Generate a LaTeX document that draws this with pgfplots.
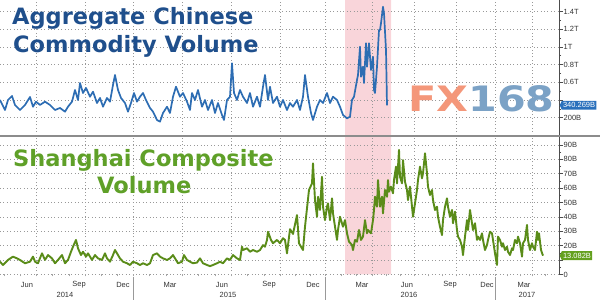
\documentclass[border=0pt]{standalone}
\usepackage{fontspec}
\setmainfont{Liberation Sans}
\newfontfamily\titlefont{DejaVu Sans}
\usepackage{pgfplots}
\pgfplotsset{compat=1.18}
\usetikzlibrary{shapes.symbols}
\definecolor{titleblue}{HTML}{1F4F8C}
\definecolor{lineblue}{HTML}{2D6DB3}
\definecolor{titlegreen}{HTML}{5FA028}
\definecolor{linegreen}{HTML}{5A8C19}
\definecolor{tagblue}{HTML}{2A70BC}
\definecolor{taggreen}{HTML}{64A01E}
\definecolor{shade}{HTML}{F9D5DA}
\definecolor{fxorange}{HTML}{F4977A}
\definecolor{fxblue}{HTML}{7BA2C6}
\pgfplotsset{
  panel/.style={
    scale only axis, width=559pt, xmin=0, xmax=559,
    axis x line*=bottom, axis y line*=right,
    x axis line style={draw=none},
    y axis line style={draw=black!70, line width=0.8pt},
    tick align=outside,
    major tick length=3.5pt, minor tick length=2pt,
    every tick/.style={draw=black!70, line width=0.6pt},
    major x tick style={draw=none},
    xmajorgrids, ymajorgrids,
    grid style={draw=gray!80, line width=0.75pt, dash pattern=on 0.8pt off 2.6pt},
    xtick={36,85,133,182,231,280,325,372,414,456,495,532},
    xticklabels={},
    yticklabel style={font=\fontsize{7.5}{9}\selectfont, text=black!80, anchor=west, inner sep=1pt},
    clip=false,
  }
}
\begin{document}
\begin{tikzpicture}[x=1pt,y=1pt]
% ---------------- highlighted period (background axis) ----------------
\begin{scope}[yshift=25.5pt]
\begin{axis}[scale only axis, width=559pt, height=274.5pt, at={(0pt,0pt)}, anchor=origin,
  xmin=0, xmax=559, ymin=0, ymax=1, hide axis, clip=false]
\addplot[fill=shade, draw=none] coordinates {(345,0)(345,1)(391,1)(391,0)} \closedcycle;
\end{axis}
\end{scope}
% ---------------- top panel ----------------
\begin{scope}[yshift=164.6pt]
\begin{axis}[panel, at={(0pt,0pt)}, anchor=origin, height=135.4pt,
  ymin=0, ymax=1530,
  ytick={200,400,600,800,1000,1200,1400},
  yticklabels={200B,,0.6T,0.8T,1T,1.2T,1.4T},
  minor y tick num=1]
\addplot[lineblue, line width=1.7pt, line join=round] coordinates {
(0,400)(5,287)(8,400)(12,445)(15,344)(20,287)(25,344)(30,434)(33,324)(36,381)
(40,344)(45,381)(50,344)(55,287)(60,310)(65,268)(68,324)(72,381)(75,513)(78,400)
(80,592)(83,479)(86,536)(90,437)(93,494)(97,366)(100,423)(103,324)(107,423)(110,381)
(113,570)(115,683)(118,513)(121,423)(125,366)(128,268)(131,366)(134,479)(137,381)(140,437)
(143,479)(146,400)(150,310)(153,268)(157,174)(160,155)(163,253)(167,324)(170,253)(173,437)
(176,550)(180,437)(183,479)(187,381)(190,287)(192,479)(195,400)(198,513)(202,324)(205,400)
(208,287)(212,400)(215,253)(218,366)(222,231)(224,174)(227,400)(230,437)(232,815)(234,479)
(237,400)(240,513)(243,437)(247,366)(250,479)(253,324)(257,437)(260,324)(263,550)(265,683)
(268,400)(270,550)(273,366)(277,437)(280,324)(283,400)(287,287)(290,366)(293,324)(297,400)
(300,287)(303,437)(305,683)(308,437)(311,253)(313,174)(317,324)(320,400)(323,366)(327,479)
(330,366)(333,437)(337,400)(340,324)(343,231)(347,193)(350,211)(352,400)(354,437)(357,626)
(358,683)(360,1002)(361,663)(363,776)(364,592)(366,1041)(367,776)(369,1041)(371,739)(373,889)
(374,513)(375,479)(377,776)(379,1191)(380,1191)(381,1267)(383,1454)(384,1380)(386,965)(387,340.269)
};
\node[shape=signal, signal to=west, signal pointer angle=130, fill=tagblue, text=white,
  font=\fontsize{7.5}{8}\selectfont, inner xsep=1.2pt, inner ysep=1.8pt, anchor=west]
  at (axis cs:559.5,340.269) {340.269B};
\end{axis}
\end{scope}
% ---------------- bottom panel ----------------
\begin{scope}[yshift=25.5pt]
\begin{axis}[panel, at={(0pt,0pt)}, anchor=origin, height=137.5pt,
  ymin=0, ymax=95.5,
  ytick={0,10,20,30,40,50,60,70,80,90},
  yticklabels={0,,20B,30B,40B,50B,60B,70B,80B,90B},
  minor y tick num=1,
  minor xtick={4,20,36,52,69,85,101,117,133,149,166,182,198,215,231,247,264,280,295,310,325,341,356,372,386,400,414,428,442,456,469,482,495,507,520,532,545},
  minor x tick style={draw=gray!70, line width=0.5pt},
]
\addplot[linegreen, line width=1.9pt, line join=round] coordinates {
(0,8.9)(3,6.6)(8,10.1)(13,12.4)(17,11.2)(20,10.1)(25,7.8)(30,8.9)(33,12.4)(35,8.9)
(38,7.8)(42,14.7)(45,10.1)(48,13.5)(52,11.2)(55,7.8)(58,10.1)(62,13.5)(65,7.8)(68,10.1)
(71,15.8)(73,19.3)(76,24)(78,18.2)(81,13.5)(83,15.8)(86,12.4)(88,14.7)(92,10.1)(95,13.5)
(98,11.2)(102,10.1)(105,14.7)(107,11.2)(110,8.9)(113,13.5)(115,17)(117,14.7)(120,11.2)(123,8.9)
(127,7.8)(130,6.6)(133,8.9)(137,7.8)(140,6.6)(143,7.8)(147,6.6)(150,7.8)(153,13.5)(157,14.7)
(160,12.4)(163,11.2)(167,10.1)(170,11.2)(173,13.5)(176,10.1)(178,7.8)(182,8.9)(184,13.5)(187,10.1)
(190,8.9)(193,7.8)(197,8.3)(200,11.2)(203,7.8)(207,6.6)(210,5.8)(213,6.6)(217,7.8)(220,8.9)
(223,7.8)(227,11.2)(230,10.1)(233,13.5)(237,11.2)(240,10.1)(242,19.3)(243,17)(247,18.2)(250,15.8)
(253,17)(257,15.8)(260,17)(263,20.4)(265,19.3)(267,24)(268,29.7)(271,24)(273,21.7)(277,24)
(280,21.7)(283,25.2)(285,24)(287,14.7)(290,31.5)(293,28.2)(297,41.3)(299,21.7)(300,20.5)(303,17)
(305,33.2)(307,46)(309,58.7)(312,63.3)(313,77.2)(315,51.7)(317,40.1)(318,54)(320,44.8)(322,67.9)
(323,47.1)(325,37.8)(327,47.1)(328,49.4)(330,37.8)(332,52.9)(333,42.5)(337,24)(338,30.9)(340,40.1)
(343,33.2)(345,37.8)(347,28.6)(349,22.8)(352,20.5)(353,17)(355,24)(357,22.8)(359,30.9)(361,24)
(363,26.3)(365,37.8)(367,28.6)(368,30.9)(371,28.6)(373,37.8)(374,44.8)(375,54)(377,47.1)(378,65.6)
(380,47.1)(382,54)(383,42.5)(385,58.7)(387,54)(388,65.6)(389,57.5)(391,61)(393,56.4)(394,65.6)
(396,74.9)(397,63.3)(399,86.5)(400,67.9)(402,63.3)(403,79.5)(405,64.4)(407,58.7)(408,51.7)(410,61)
(412,47.1)(413,40.1)(415,49.4)(417,58.7)(418,65.6)(420,74.9)(422,66.8)(423,70.3)(425,84.2)(427,70.3)
(428,61)(430,55.2)(432,58.7)(433,51.7)(435,44.8)(437,47.1)(438,40.1)(440,33.2)(442,27.4)(443,37.8)
(445,47.1)(447,52.9)(448,47.1)(450,40.1)(452,44.8)(453,35.6)(455,43.6)(457,30.9)(458,26.3)(460,24)
(462,19.3)(463,13.5)(465,26.3)(467,37.8)(468,30.9)(470,44.8)(472,35.6)(473,30.9)(475,35.6)(477,24)
(478,26.3)(480,24)(482,28.6)(483,24)(485,17)(487,20.5)(488,24)(490,29.7)(492,28.6)(493,24)
(495,14.7)(497,6.6)(498,26.3)(500,24)(502,19.3)(503,21.7)(505,17)(507,19.3)(508,15.8)(510,13.5)
(512,18.2)(513,17)(515,24)(517,21.7)(518,26.3)(520,21.7)(522,12.4)(523,21.7)(525,24)(527,34.4)
(528,24)(530,17)(532,21.7)(533,19.3)(535,17)(537,29.7)(538,24)(539,28.6)(541,17)(543,13.082)
};
\node[shape=signal, signal to=west, signal pointer angle=130, fill=taggreen, text=white,
  font=\fontsize{7.5}{8}\selectfont, inner xsep=1.2pt, inner ysep=1.8pt, anchor=west]
  at (axis cs:559.5,13.082) {13.082B};
\end{axis}
\end{scope}
% ---------------- decorations ----------------
\draw[black!45, line width=1.8pt] (0,163.6) -- (600,163.6);
\foreach \xx in {133,325,495} \draw[gray!80, line width=0.6pt] (\xx,23) -- (\xx,0);
\foreach \xx/\mm in {27/Jun,79/Sep,123/Dec,170/Mar,222/Jun,269/Sep,313/Dec,362/Mar,407/Jun,450/Sep,487/Dec,524/Mar}
  \node[font=\fontsize{7.5}{9}\selectfont, text=black!80, inner sep=0] at (\xx,15) {\mm};
\foreach \xx/\yy in {65/2014,228/2015,409/2016,527/2017}
  \node[font=\fontsize{7.5}{9}\selectfont, text=black!80, inner sep=0] at (\xx,5) {\yy};
\node[anchor=base west, inner sep=0, font=\titlefont\bfseries\fontsize{22.5}{27}\selectfont, text=titleblue] at (12,275) {Aggregate Chinese};
\node[anchor=base west, inner sep=0, font=\titlefont\bfseries\fontsize{22.5}{27}\selectfont, text=titleblue] at (13,247) {Commodity Volume};
\node[anchor=base west, inner sep=0, font=\titlefont\bfseries\fontsize{22.5}{27}\selectfont, text=titlegreen] at (13,133) {Shanghai Composite};
\node[anchor=base west, inner sep=0, font=\titlefont\bfseries\fontsize{22.5}{27}\selectfont, text=titlegreen] at (97,106) {Volume};
\node[anchor=base west, inner sep=0, font=\titlefont\bfseries\fontsize{35}{35}\selectfont, xscale=1.18] at (408,188) {\textcolor{fxorange}{FX}\textcolor{fxblue}{168}};
\pgfresetboundingbox
\path (0,0) rectangle (600,300);
\end{tikzpicture}
\end{document}
